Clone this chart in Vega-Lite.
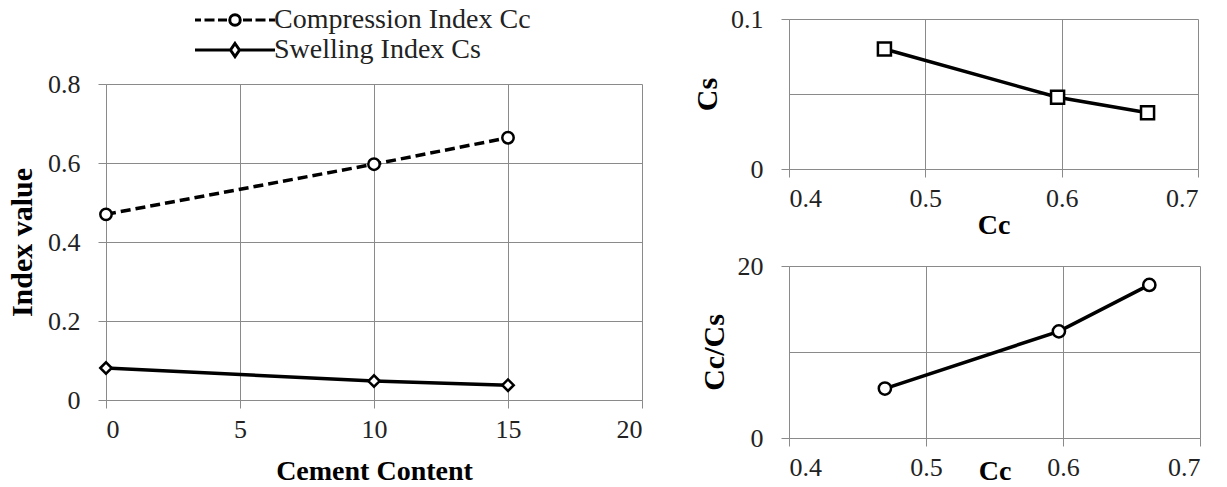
{
  "$schema": "https://vega.github.io/schema/vega-lite/v6.json",
  "background": "white",
  "padding": {"left": 7, "top": 6, "right": 5, "bottom": 2},
  "datasets": {
    "index": [
      {"cement": 0, "series": "Compression Index Cc", "value": 0.47},
      {"cement": 10, "series": "Compression Index Cc", "value": 0.597},
      {"cement": 15, "series": "Compression Index Cc", "value": 0.664},
      {"cement": 0, "series": "Swelling Index Cs", "value": 0.081},
      {"cement": 10, "series": "Swelling Index Cs", "value": 0.048},
      {"cement": 15, "series": "Swelling Index Cs", "value": 0.0375}
    ],
    "series": [
      {"series": "Compression Index Cc"},
      {"series": "Swelling Index Cs"}
    ],
    "rel": [
      {"Cc": 0.47, "Cs": 0.08, "ratio": 5.75},
      {"Cc": 0.597, "Cs": 0.0478, "ratio": 12.4},
      {"Cc": 0.663, "Cs": 0.0375, "ratio": 17.8}
    ]
  },
  "config": {
    "font": "Liberation Serif",
    "view": {"stroke": null},
    "axis": {
      "labelFont": "Liberation Serif",
      "labelFontSize": 26,
      "labelColor": "#222222",
      "titleFont": "Liberation Serif",
      "titleFontWeight": "bold",
      "titleColor": "#000000",
      "gridColor": "#8a8a8a",
      "gridOpacity": 1,
      "domainColor": "#8a8a8a",
      "tickColor": "#8a8a8a",
      "tickSize": 8
    }
  },
  "spacing": 49,
  "hconcat": [
    {
      "spacing": 12,
      "vconcat": [
        {
          "width": 536,
          "height": 40,
          "data": {"name": "series"},
          "mark": {"type": "point", "opacity": 0},
          "encoding": {
            "shape": {
              "field": "series", "type": "nominal",
              "scale": {
                "domain": ["Compression Index Cc", "Swelling Index Cs"],
                "range": [
                  "M-8,0H-6.8M-6.1,0H-4.1M-3.4,0H-1.6M1.6,0H3.4M4.1,0H6.1M6.8,0H8M-1.05,0A1.05,1.05 0 1,1 1.05,0A1.05,1.05 0 1,1 -1.05,0Z",
                  "M-8,0H-0.9M0.9,0H8M0,-1.3L0.9,0L0,1.3L-0.9,0Z"
                ]
              },
              "legend": {
                "title": null,
                "orient": "none",
                "legendX": 115,
                "legendY": -13,
                "direction": "vertical",
                "padding": 0,
                "symbolSize": 100,
                "symbolOpacity": 1,
                "symbolFillColor": "white",
                "symbolStrokeColor": "black",
                "symbolStrokeWidth": 3,
                "labelFont": "Liberation Serif",
                "labelFontSize": 28,
                "labelColor": "#222222",
                "labelOffset": 25,
                "labelLimit": 500,
                "rowPadding": 2
              }
            }
          }
        },
        {
          "width": 536,
          "height": 316,
          "data": {"name": "index"},
          "encoding": {
            "x": {"field": "cement", "type": "quantitative", "scale": {"domain": [0, 20]}, "axis": {"values": [0, 5, 10, 15, 20], "labelFont": "Liberation Serif", "labelFontSize": 26, "labelPadding": 8, "title": "Cement Content", "titleFontSize": 28, "titlePadding": 15}},
            "y": {"field": "value", "type": "quantitative", "scale": {"domain": [0, 0.8]}, "axis": {"values": [0, 0.2, 0.4, 0.6, 0.8], "labelFont": "Liberation Serif", "labelFontSize": 26, "labelPadding": 18, "format": "~g", "title": "Index  value", "titleFontSize": 30, "titlePadding": 10}}
          },
          "layer": [
            {
              "transform": [{"filter": "datum.series === 'Compression Index Cc'"}],
              "layer": [
                {"mark": {"type": "line", "color": "black", "strokeWidth": 3.5, "strokeDash": [10, 5]}},
                {"mark": {"type": "point", "shape": "circle", "size": 130, "filled": false, "fill": "white", "fillOpacity": 1, "stroke": "black", "strokeWidth": 2.5, "opacity": 1}}
              ]
            },
            {
              "transform": [{"filter": "datum.series === 'Swelling Index Cs'"}],
              "layer": [
                {"mark": {"type": "line", "color": "black", "strokeWidth": 3.5}},
                {"mark": {"type": "point", "shape": "diamond", "size": 130, "filled": false, "fill": "white", "fillOpacity": 1, "stroke": "black", "strokeWidth": 2.5, "opacity": 1}}
              ]
            }
          ]
        }
      ]
    },
    {
      "spacing": 14,
      "vconcat": [
        {
          "width": 409,
          "height": 150,
          "data": {"name": "rel"},
          "encoding": {
            "x": {"field": "Cc", "type": "quantitative", "scale": {"domain": [0.4, 0.7]}, "axis": {"values": [0.4, 0.5, 0.6, 0.7], "labelFont": "Liberation Serif", "labelFontSize": 26, "labelPadding": 8, "title": "Cc", "titleFontSize": 28, "titlePadding": 0}},
            "y": {"field": "Cs", "type": "quantitative", "scale": {"domain": [0, 0.1]}, "axis": {"values": [0, 0.05, 0.1], "format": "~g", "labelFont": "Liberation Serif", "labelFontSize": 26, "labelPadding": 18, "labelExpr": "datum.value == 0.05 ? '' : datum.label", "tickOpacity": {"condition": {"test": "datum.value == 0.05", "value": 0}, "value": 1}, "title": "Cs", "titleFontSize": 30, "titlePadding": 8}}
          },
          "layer": [
            {"mark": {"type": "line", "color": "black", "strokeWidth": 3.5}},
            {"mark": {"type": "point", "shape": "square", "size": 170, "filled": false, "fill": "white", "fillOpacity": 1, "stroke": "black", "strokeWidth": 2.5, "opacity": 1}}
          ]
        },
        {
          "width": 411,
          "height": 172,
          "data": {"name": "rel"},
          "encoding": {
            "x": {"field": "Cc", "type": "quantitative", "scale": {"domain": [0.4, 0.7]}, "axis": {"values": [0.4, 0.5, 0.6, 0.7], "labelFont": "Liberation Serif", "labelFontSize": 26, "labelPadding": 8, "title": "Cc", "titleFontSize": 28, "titlePadding": -23}},
            "y": {"field": "ratio", "type": "quantitative", "scale": {"domain": [0, 20]}, "axis": {"values": [0, 10, 20], "format": "~g", "labelFont": "Liberation Serif", "labelFontSize": 26, "labelPadding": 18, "labelExpr": "datum.value == 10 ? '' : datum.label", "tickOpacity": {"condition": {"test": "datum.value == 10", "value": 0}, "value": 1}, "title": "Cc/Cs", "titleFontSize": 30, "titlePadding": 8}}
          },
          "layer": [
            {"mark": {"type": "line", "color": "black", "strokeWidth": 3.5}},
            {"mark": {"type": "point", "shape": "circle", "size": 150, "filled": false, "fill": "white", "fillOpacity": 1, "stroke": "black", "strokeWidth": 2.5, "opacity": 1}}
          ]
        }
      ]
    }
  ]
}
